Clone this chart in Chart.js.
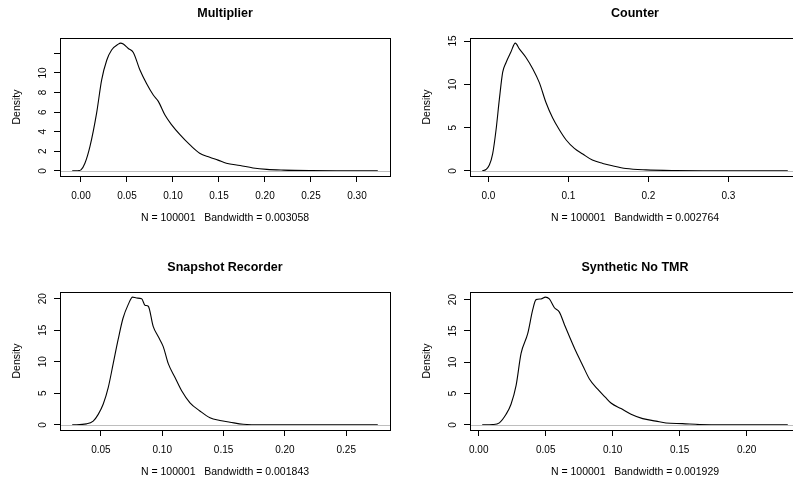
<!DOCTYPE html>
<html>
<head>
<meta charset="utf-8">
<title>Density plots</title>
<script src="https://cdn.jsdelivr.net/npm/chart.js@4.4.0/dist/chart.umd.min.js"></script>
<style>
  html, body { margin: 0; padding: 0; background: #fff; overflow: hidden; }
  #wrap { position: relative; width: 793px; height: 484px; overflow: hidden; background: #fff; }
  .panel { position: absolute; width: 400px; height: 242px; }
</style>
</head>
<body>
<div id="wrap">
  <div class="panel" style="left:0px;top:0px"><canvas id="c1" width="400" height="242"></canvas></div>
  <div class="panel" style="left:410px;top:0px"><canvas id="c2" width="400" height="242"></canvas></div>
  <div class="panel" style="left:0px;top:254px"><canvas id="c3" width="400" height="242"></canvas></div>
  <div class="panel" style="left:410px;top:254px"><canvas id="c4" width="400" height="242"></canvas></div>
</div>
<script>
// ---- data ----
const sampleSize = 100001;
const titles = ['Multiplier', 'Counter', 'Snapshot Recorder', 'Synthetic No TMR'];
const bandwidths = ['0.003058', '0.002764', '0.001843', '0.001929'];

const multX = [-0.0095, -0.003, 0.0, 0.0043, 0.0098, 0.017, 0.0225, 0.028, 0.0333, 0.0406, 0.0431, 0.046, 0.0514, 0.0569, 0.0641, 0.0714, 0.0786, 0.0841, 0.0913, 0.0986, 0.1076, 0.1185, 0.129, 0.140, 0.149, 0.158, 0.173, 0.187, 0.202, 0.22, 0.25, 0.28, 0.3226];
const multY = [0, 0.02, 0.1, 0.78, 2.5, 5.9, 9.3, 11.3, 12.35, 12.95, 13.05, 12.95, 12.5, 12.1, 10.3, 8.9, 7.75, 7.1, 5.7, 4.7, 3.7, 2.65, 1.8, 1.4, 1.1, 0.78, 0.55, 0.3, 0.15, 0.08, 0.03, 0.01, 0];

const countX = [-0.0077, -0.003, 0.0012, 0.0054, 0.0096, 0.0137, 0.0179, 0.022, 0.028, 0.0337, 0.0387, 0.047, 0.0554, 0.0637, 0.072, 0.0804, 0.0887, 0.097, 0.1075, 0.118, 0.130, 0.143, 0.155, 0.172, 0.197, 0.234, 0.28, 0.33, 0.3743];
const countY = [0, 0.16, 0.67, 2.0, 4.75, 8.26, 11.4, 12.5, 13.7, 14.76, 14.1, 13.1, 11.8, 10.2, 7.9, 6.1, 4.75, 3.6, 2.6, 1.95, 1.25, 0.86, 0.59, 0.28, 0.12, 0.04, 0.015, 0.005, 0];

const snapX = [0.0266, 0.0383, 0.0437, 0.0478, 0.0519, 0.056, 0.060, 0.064, 0.068, 0.0723, 0.0758, 0.0791, 0.0832, 0.0859, 0.0886, 0.0926, 0.0967, 0.1008, 0.1049, 0.1103, 0.1158, 0.1226, 0.1307, 0.1389, 0.147, 0.1552, 0.166, 0.185, 0.22, 0.2757];
const snapY = [0, 0.16, 0.6, 1.67, 3.3, 5.95, 9.7, 13.5, 16.9, 19.1, 20.25, 20.1, 20.0, 18.97, 18.8, 15.6, 14.0, 12.4, 9.7, 7.55, 5.4, 3.5, 2.2, 1.13, 0.7, 0.43, 0.11, 0.02, 0.005, 0];

const synthX = [0.0026, 0.0104, 0.0154, 0.0204, 0.0241, 0.0279, 0.0316, 0.0366, 0.0403, 0.0428, 0.0465, 0.0498, 0.0527, 0.0565, 0.0602, 0.064, 0.0677, 0.0726, 0.0776, 0.0826, 0.0888, 0.095, 0.0987, 0.1062, 0.1137, 0.1224, 0.1323, 0.1398, 0.152, 0.165, 0.19, 0.2307];
const synthY = [0, 0.05, 0.33, 1.69, 3.3, 6.3, 11.4, 14.6, 18.4, 20.0, 20.1, 20.4, 20.1, 18.7, 18.0, 16.0, 14.1, 11.7, 9.5, 7.34, 5.7, 4.3, 3.5, 2.6, 1.7, 1.0, 0.6, 0.3, 0.2, 0.05, 0.01, 0];

// ---- tick values and labels ----
const multXTicks = [0, 0.05, 0.10, 0.15, 0.20, 0.25, 0.30];
const multXLabels = ['0.00', '0.05', '0.10', '0.15', '0.20', '0.25', '0.30'];
const multYTicks = [0, 2, 4, 6, 8, 10, 12];
const multYLabels = ['0', '2', '4', '6', '8', '10', ''];

const countXTicks = [0, 0.1, 0.2, 0.3];
const countXLabels = ['0.0', '0.1', '0.2', '0.3'];
const countYTicks = [0, 5, 10, 15];
const countYLabels = ['0', '5', '10', '15'];

const snapXTicks = [0.05, 0.10, 0.15, 0.20, 0.25];
const snapXLabels = ['0.05', '0.10', '0.15', '0.20', '0.25'];
const snapYTicks = [0, 5, 10, 15, 20];
const snapYLabels = ['0', '5', '10', '15', '20'];

const synthXTicks = [0, 0.05, 0.10, 0.15, 0.20];
const synthXLabels = ['0.00', '0.05', '0.10', '0.15', '0.20'];
const synthYTicks = [0, 5, 10, 15, 20];
const synthYLabels = ['0', '5', '10', '15', '20'];

const FONT = "'Liberation Sans', Arial, sans-serif";

// frame around the plot region, like R's box()
const boxPlugin = {
    id: 'rbox',
    afterDraw(chart) {
        const { ctx, chartArea } = chart;
        ctx.save();
        ctx.strokeStyle = '#000';
        ctx.lineWidth = 1;
        ctx.strokeRect(Math.round(chartArea.left) + 0.5, Math.round(chartArea.top) + 0.5,
            Math.round(chartArea.right - chartArea.left), Math.round(chartArea.bottom - chartArea.top));
        ctx.restore();
    }
};

// grey line at density 0 (abline(h = 0))
const zeroLinePlugin = {
    id: 'zeroLine',
    afterDatasetsDraw(chart) {
        const { ctx, chartArea } = chart;
        const y = Math.round(chart.scales.y.getPixelForValue(0)) + 0.5;
        ctx.save();
        ctx.strokeStyle = '#bebebe';
        ctx.lineWidth = 1;
        ctx.beginPath();
        ctx.moveTo(chartArea.left, y);
        ctx.lineTo(chartArea.right, y);
        ctx.stroke();
        ctx.restore();
    }
};

function extendRange(arr) {
    const lo = Math.min(...arr), hi = Math.max(...arr);
    const pad = (hi - lo) * 0.04;
    return [lo - pad, hi + pad];
}

function renderDensityPanel(canvasId, title, bw, xs, ys, xTicks, xLabels, yTicks, yLabels) {
    const canvas = document.getElementById(canvasId);
    const [xMin, xMax] = extendRange(xs);
    const [yMin, yMax] = extendRange(ys);

    new Chart(canvas, {
        type: 'line',
        data: {
            datasets: [{
                data: xs.map((x, i) => ({ x: x, y: ys[i] })),
                borderColor: '#000',
                borderWidth: 1.1,
                pointRadius: 0,
                fill: false,
                cubicInterpolationMode: 'monotone'
            }]
        },
        options: {
            responsive: false,
            animation: false,
            events: [],
            layout: { padding: { left: 0, top: 0, right: 10, bottom: 0 } },
            plugins: {
                legend: { display: false },
                tooltip: { enabled: false },
                title: {
                    display: true,
                    text: title,
                    fullSize: false,
                    color: '#000',
                    font: { family: FONT, size: 12.5, weight: 'bold' },
                    padding: { top: 6.3, bottom: 16.7 }
                }
            },
            scales: {
                x: {
                    type: 'linear',
                    min: xMin,
                    max: xMax,
                    border: { display: false },
                    grid: { drawOnChartArea: false, drawTicks: true, tickLength: 6, color: '#000' },
                    ticks: {
                        color: '#000',
                        font: { family: FONT, size: 10 },
                        padding: 7.8,
                        maxRotation: 0,
                        autoSkip: false,
                        callback: (v, i) => xLabels[i]
                    },
                    title: {
                        display: true,
                        text: 'N = ' + sampleSize + '   Bandwidth = ' + bw,
                        color: '#000',
                        font: { family: FONT, size: 10.5 },
                        padding: { top: 0, bottom: 17.2 }
                    },
                    afterBuildTicks: s => { s.ticks = xTicks.map(v => ({ value: v })); },
                    afterFit: s => { s.height = 66; }
                },
                y: {
                    type: 'linear',
                    min: yMin,
                    max: yMax,
                    border: { display: false },
                    grid: { drawOnChartArea: false, drawTicks: true, tickLength: 6, color: '#000' },
                    ticks: {
                        color: '#000',
                        font: { family: FONT, size: 10 },
                        padding: 5,
                        minRotation: 90,
                        maxRotation: 90,
                        crossAlign: 'center',
                        autoSkip: false,
                        callback: (v, i) => yLabels[i]
                    },
                    title: {
                        display: true,
                        text: 'Density',
                        color: '#000',
                        font: { family: FONT, size: 10.5 },
                        padding: { top: 10.7, bottom: 0 }
                    },
                    afterBuildTicks: s => { s.ticks = yTicks.map(v => ({ value: v })); },
                    afterFit: s => { s.width = 60; }
                }
            }
        },
        plugins: [zeroLinePlugin, boxPlugin]
    });
}

renderDensityPanel('c1', titles[0], bandwidths[0], multX, multY, multXTicks, multXLabels, multYTicks, multYLabels);
renderDensityPanel('c2', titles[1], bandwidths[1], countX, countY, countXTicks, countXLabels, countYTicks, countYLabels);
renderDensityPanel('c3', titles[2], bandwidths[2], snapX, snapY, snapXTicks, snapXLabels, snapYTicks, snapYLabels);
renderDensityPanel('c4', titles[3], bandwidths[3], synthX, synthY, synthXTicks, synthXLabels, synthYTicks, synthYLabels);
</script>
</body>
</html>
